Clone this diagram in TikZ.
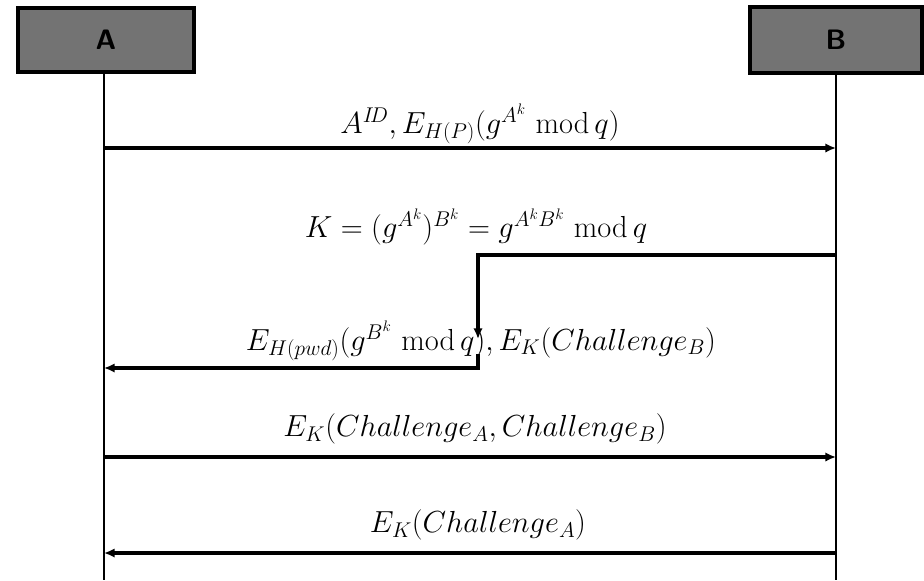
\RequirePackage{fix-cm}
\documentclass[tikz,border=0pt]{standalone}
\usetikzlibrary{arrows.meta,patterns}
\begin{document}
\begin{tikzpicture}[x=0.03cm,y=-0.03cm,
  actor/.style={draw=black,line width=3.2pt,fill=black!55,minimum width=5.1cm,minimum height=1.9cm,inner sep=0pt},
  life/.style={line width=2.4pt},
  msg/.style={line width=2.6pt,-{Latex[length=9pt,width=8pt]}},
  lbl/.style={font=\fontsize{26}{30}\selectfont,inner sep=2pt}]
\useasboundingbox (0,0) rectangle (924,580);
\node[actor,minimum width=5.3cm] (A) at (106,40) {\scalebox{2.4}{\sffamily\bfseries A}};
\node[actor,minimum width=5.15cm,minimum height=1.98cm] (B) at (836,40) {\scalebox{2.4}{\sffamily\bfseries B}};
\coordinate (Aend) at (104,580);
\coordinate (Bend) at (836,580);
\draw[life] (A.south -| Aend) -- (Aend);
\draw[life] (B.south) -- (Bend);
% message 1
\coordinate (a1) at (104,148); \coordinate (b1) at (836,148);
\draw[msg] (a1) -- (b1);
\node[lbl] (l1) at (480,124) {$A^{I\!D}, E_{H(P)}(g^{A^k}\ \mathrm{mod}\,q)$};
% message 2 (B to middle)
\coordinate (b2) at (836,255); \coordinate (c2) at (478,255); \coordinate (d2) at (478,339);
\draw[msg] (b2) -- (c2) -- (d2);
\node[lbl] (l2) at (476,227) {$K=(g^{A^k})^{B^k}=g^{A^kB^k}\ \mathrm{mod}\,q$};
% message 3 (middle to A)
\coordinate (c3) at (478,354); \coordinate (d3) at (478,368); \coordinate (a3) at (104,368);
\draw[msg] (c3) -- (d3) -- (a3);
\node[lbl] (l3) at (481,341) {$E_{H(pwd)}(g^{B^k}\ \mathrm{mod}\,q), E_K(Challenge_B)$};
% message 4
\coordinate (a4) at (104,457); \coordinate (b4) at (836,457);
\draw[msg] (a4) -- (b4);
\node[lbl] (l4) at (475,429) {$E_K(Challenge_A, Challenge_B)$};
% message 5
\coordinate (b5) at (836,553); \coordinate (a5) at (104,553);
\draw[msg] (b5) -- (a5);
\node[lbl] (l5) at (478,525) {$E_K(Challenge_A)$};
\end{tikzpicture}
\end{document}
